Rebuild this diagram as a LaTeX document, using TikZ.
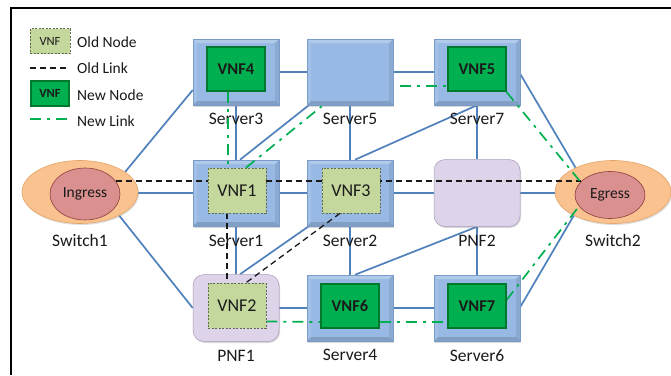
\documentclass[tikz,border=0pt]{standalone}
\usepackage{fontspec}
\setmainfont{Carlito}
\usetikzlibrary{shapes.geometric,shadows,calc}
\pgfdeclarelayer{bg}
\pgfdeclarelayer{fg}
\pgfsetlayers{bg,main,fg}
\definecolor{srvfill}{HTML}{97B9E4}
\definecolor{srvedge}{HTML}{7A9CCB}
\definecolor{pnffill}{HTML}{DED4EA}
\definecolor{pnfedge}{HTML}{A99CBD}
\definecolor{oldfill}{HTML}{C4D79C}
\definecolor{olddash}{HTML}{5E6B4C}
\definecolor{newfill}{HTML}{00B050}
\definecolor{newedge}{HTML}{00792F}
\definecolor{swout}{HTML}{FAC28F}
\definecolor{swoutedge}{HTML}{E4A468}
\definecolor{swin}{HTML}{D9908F}
\definecolor{swinedge}{HTML}{8E3F3E}
\definecolor{linkblue}{HTML}{4F81BD}
\definecolor{linkgreen}{HTML}{00B050}
\definecolor{txt}{HTML}{1A1A1A}
\tikzset{
  bevel/.style={path picture={
    \fill[white,opacity=0.25] (path picture bounding box.north west) -- (path picture bounding box.north east)
      -- ([xshift=-4pt,yshift=-4pt]path picture bounding box.north east) -- ([xshift=4pt,yshift=-4pt]path picture bounding box.north west) -- cycle;
    \fill[white,opacity=0.12] (path picture bounding box.north west) -- (path picture bounding box.south west)
      -- ([xshift=4pt,yshift=4pt]path picture bounding box.south west) -- ([xshift=4pt,yshift=-4pt]path picture bounding box.north west) -- cycle;
    \fill[black,opacity=0.14] (path picture bounding box.south west) -- (path picture bounding box.south east)
      -- ([xshift=-4pt,yshift=4pt]path picture bounding box.south east) -- ([xshift=4pt,yshift=4pt]path picture bounding box.south west) -- cycle;
    \fill[black,opacity=0.08] (path picture bounding box.north east) -- (path picture bounding box.south east)
      -- ([xshift=-4pt,yshift=4pt]path picture bounding box.south east) -- ([xshift=-4pt,yshift=-4pt]path picture bounding box.north east) -- cycle;
  }},
  server/.style={draw=srvedge, line width=0.5pt, fill=srvfill, minimum width=86pt, minimum height=66pt,
    inner sep=0pt, drop shadow={shadow xshift=1pt, shadow yshift=-1.5pt, opacity=0.3}, bevel},
  pnf/.style={draw=pnfedge, line width=0.5pt, fill=pnffill, rounded corners=11pt, minimum width=86pt,
    minimum height=67pt, inner sep=0pt, drop shadow={shadow xshift=1pt, shadow yshift=-1.5pt, opacity=0.3}},
  oldvnf/.style={draw=olddash, dash pattern=on 2pt off 1.5pt, line width=0.6pt, fill=oldfill,
    minimum width=58pt, minimum height=45pt, inner sep=0pt, text=txt, font=\fontsize{18}{20}\selectfont},
  newvnf/.style={draw=newedge, line width=1.6pt, fill=newfill, minimum width=57.5pt, minimum height=44.5pt,
    inner sep=0pt, text=txt, font=\bfseries\fontsize{16.5}{20}\selectfont},
  swouter/.style={ellipse, draw=swoutedge, line width=0.6pt, fill=swout, minimum width=116pt, minimum height=63pt,
    inner sep=0pt, drop shadow={shadow xshift=1pt, shadow yshift=-1.5pt, opacity=0.25}},
  swinner/.style={ellipse, draw=swinedge, line width=0.6pt, fill=swin, minimum width=70pt,
    inner sep=0pt, text=txt, font=\fontsize{15.5}{18}\selectfont},
  lbl/.style={inner sep=0pt, text=txt, font=\fontsize{17.5}{20}\selectfont},
  legtxt/.style={inner sep=0pt, anchor=west, text=txt, font=\fontsize{15.5}{18}\selectfont},
  bluelink/.style={draw=linkblue, line width=1.7pt},
  oldlink/.style={draw=black!90, line width=1.3pt, dash pattern=on 6pt off 4pt},
  newlink/.style={draw=linkgreen, line width=1.7pt, dash pattern=on 11pt off 6pt on 3pt off 6pt},
}
\begin{document}
\begin{tikzpicture}[x=1pt,y=-1pt]
\useasboundingbox (0,0) rectangle (671,375);
\begin{pgfonlayer}{bg}
\fill[white] (0,0) rectangle (671,375);
\end{pgfonlayer}
\draw[line width=1.4pt] (11,375) -- (11,8) -- (671,8);

% legend
\node[oldvnf, minimum width=40pt, minimum height=25pt, font=\fontsize{12.5}{14}\selectfont] (lgold) at (50,41) {VNF};
\node[legtxt] (lgoldt) at (77,42) {Old Node};
\coordinate (lol1) at (30,68);
\coordinate (lol2) at (69,68);
\draw[oldlink] (lol1) -- (lol2);
\node[legtxt] (lgolt) at (77,68) {Old Link};
\node[newvnf, minimum width=38.5pt, minimum height=25.5pt, font=\bfseries\fontsize{12.5}{14}\selectfont] (lgnew) at (50,93.5) {VNF};
\node[legtxt] (lgnewt) at (77,95) {New Node};
\coordinate (lnl1) at (30,119);
\coordinate (lnl2) at (68,119);
\draw[newlink] (lnl1) -- (lnl2);
\node[legtxt] (lgnlt) at (77,121) {New Link};

% servers and PNFs
\node[server] (s3) at (236,72) {};
\node[server] (s5) at (350,72) {};
\node[server] (s7) at (477,72) {};
\node[server] (s1) at (236,193) {};
\node[server] (s2) at (350,193) {};
\node[pnf]    (p2) at (477,193) {};
\node[pnf]    (p1) at (236,308) {};
\node[server] (s4) at (350,308) {};
\node[server] (s6) at (477,308) {};

% switches
\node[swouter] (sw1) at (80,192) {};
\node[swinner, minimum height=52pt] (ing) at (85,194) {Ingress};
\node[swouter] (sw2) at (613,192) {};
\node[swinner, minimum height=47pt] (egr) at (610,195) {Egress};

% labels
\node[lbl] (l3) at ($(s3.south)+(0,14)$) {Server3};
\node[lbl] (l5) at ($(s5.south)+(0,14)$) {Server5};
\node[lbl] (l7) at ($(s7.south)+(0,14)$) {Server7};
\node[lbl] (l1) at ($(s1.south)+(0,15)$) {Server1};
\node[lbl] (l2) at ($(s2.south)+(0,15)$) {Server2};
\node[lbl] (lp2) at ($(p2.south)+(0,14)$) {PNF2};
\node[lbl] (lp1) at ($(p1.south)+(0,14)$) {PNF1};
\node[lbl] (l4) at ($(s4.south)+(0,14)$) {Server4};
\node[lbl] (l6) at ($(s6.south)+(0,14)$) {Server6};
\node[lbl] (lsw1) at (80,240) {Switch1};
\node[lbl] (lsw2) at (613,240) {Switch2};

% VNFs on top
\begin{pgfonlayer}{fg}
\node[newvnf] (v4) at ($(s3.center)+(0,-3)$) {VNF4};
\node[newvnf] (v5) at ($(s7.center)+(0,-3)$) {VNF5};
\node[oldvnf] (v1) at ($(s1.center)+(1,-2.5)$) {VNF1};
\node[oldvnf] (v3) at ($(s2.center)+(1,-2.5)$) {VNF3};
\node[oldvnf] (v2) at ($(p1.center)+(1,-2.5)$) {VNF2};
\node[newvnf] (v6) at ($(s4.center)+(0,-2)$) {VNF6};
\node[newvnf] (v7) at ($(s6.center)+(0,-2)$) {VNF7};
\end{pgfonlayer}

% physical links
\begin{pgfonlayer}{bg}
\draw[bluelink] (sw1.24) -- ($(s3.west)+(0,18)$);
\draw[bluelink] (s1.west -| sw1.east) -- (s1.west);
\draw[bluelink] (sw1.-31) -- (p1.west);
\draw[bluelink] (s3.east) -- (s5.west);
\draw[bluelink] (s5.east) -- (s7.west);
\draw[bluelink] (s3.south) -- (s1.north);
\draw[bluelink] ($(s5.south west)+(2,0)$) -- ($(s1.north)+(4,0)$);
\draw[bluelink] (s5.south) -- (s2.north);
\draw[bluelink] (s7.south) -- ($(s2.north)+(5,0)$);
\draw[bluelink] ($(s7.east)+(0,2)$) -- (sw2.147);
\draw[bluelink] (s1.east) -- (s2.west);
\draw[bluelink] (s2.east) -- (p2.west);
\draw[bluelink] (p2.east) -- (p2.east -| sw2.west);
\draw[bluelink] (s7.south) -- (p2.north);
\draw[bluelink] (s1.south) -- (p1.north);
\draw[bluelink] ($(s2.south west)+(2,0)$) -- ($(p1.north)+(4,0)$);
\draw[bluelink] (s2.south) -- (s4.north);
\draw[bluelink] (p2.south) -- ($(s4.north)+(5,0)$);
\draw[bluelink] (p2.south) -- (s6.north);
\draw[bluelink] ($(s6.east)+(0,-1)$) -- (sw2.211);
\draw[bluelink] (p1.east) -- (s4.west);
\draw[bluelink] (s4.east) -- (s6.west);
\end{pgfonlayer}

% old links
\draw[oldlink] (ing.23) -- (ing.23 -| egr.156);
\draw[oldlink] ($(v1.south)+(-10,0)$) -- ($(v2.north)+(-10,0)$);
\draw[oldlink] ($(v3.south)+(-11,0)$) -- ($(v2.north)+(9,0)$);

% new links
\draw[newlink] ($(v4.south)+(-8,0)$) -- ($(v1.north)+(-9,0)$);
\draw[newlink] ($(v1.north)+(9,0)$) -- ($(s5.south west)+(15,1)$);
\draw[newlink] ($(s5.east)+(7,14)$) -- ($(v5.west)+(0,17)$);
\draw[newlink] (v5.south east) -- (egr.156);
\draw[newlink] ($(v7.east)+(0,-6)$) -- (egr.200);
\draw[newlink] ($(v2.east)+(0,16)$) -- ($(v6.west)+(0,16)$);
\draw[newlink] ($(v6.east)+(0,16)$) -- ($(v7.west)+(0,16)$);
\end{tikzpicture}
\end{document}
